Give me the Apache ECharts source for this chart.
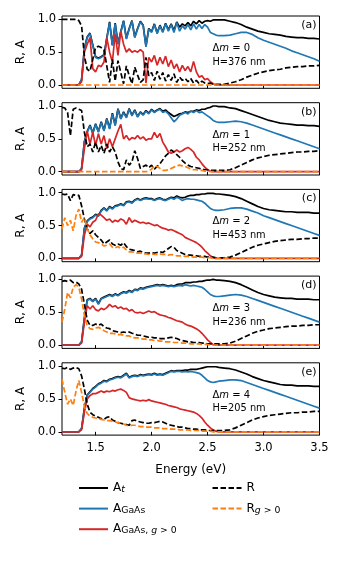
<!DOCTYPE html>
<html>
<head>
<meta charset="utf-8">
<script src="https://cdn.jsdelivr.net/npm/echarts@6/dist/echarts.min.js"></script>
<style>
  html, body { margin: 0; padding: 0; background: #fff; }
  #chart { width: 345px; height: 570px; }
</style>
</head>
<body>
<div id="chart"></div>
<script>
// photon energy grid (eV): 1.2 .. 2.6 every 0.025, then 2.65 .. 3.5 every 0.05
var energy = [
  1.200, 1.225, 1.250, 1.275, 1.300, 1.325, 1.350,
  1.375, 1.400, 1.425, 1.450, 1.475, 1.500, 1.525, 1.550, 1.575, 1.600,
  1.625, 1.650, 1.675, 1.700, 1.725, 1.750, 1.775, 1.800, 1.825, 1.850,
  1.875, 1.900, 1.925, 1.950, 1.975, 2.000, 2.025, 2.050, 2.075, 2.100,
  2.125, 2.150, 2.175, 2.200, 2.225, 2.250, 2.275, 2.300, 2.325, 2.350,
  2.375, 2.400, 2.425, 2.450, 2.475, 2.500, 2.525, 2.550, 2.575, 2.600,
  2.65, 2.70, 2.75, 2.80, 2.85, 2.90, 2.95, 3.00, 3.05, 3.10,
  3.15, 3.20, 3.25, 3.30, 3.35, 3.40, 3.45, 3.50
];

// ---- panel (a), dm = 0
var aAt = [
  0, 0, 0, 0, 0, 0, 0,
  0.08, 0.56, 0.73, 0.79, 0.61, 0.43, 0.41, 0.43, 0.46, 0.71,
  0.96, 0.61, 0.94, 0.63, 0.81, 0.98, 0.71, 0.86, 0.98, 0.73,
  0.86, 0.97, 0.91, 0.59, 0.86, 0.81, 0.93, 0.79, 0.91, 0.81,
  0.94, 0.84, 0.93, 0.83, 0.96, 0.88, 0.93, 0.9, 0.95, 0.9,
  0.97, 0.93, 0.98, 0.94, 0.97, 0.98, 0.97, 0.99, 0.99, 0.99,
  0.99, 0.97, 0.95, 0.92, 0.88, 0.85, 0.82, 0.8, 0.78, 0.77,
  0.76, 0.74, 0.73, 0.72, 0.72, 0.71, 0.71, 0.7
];
var aGaAs = [
  0, 0, 0, 0, 0, 0, 0,
  0.08, 0.55, 0.72, 0.78, 0.6, 0.42, 0.4, 0.42, 0.45, 0.7,
  0.95, 0.6, 0.93, 0.62, 0.8, 0.97, 0.7, 0.85, 0.97, 0.72,
  0.85, 0.96, 0.9, 0.58, 0.85, 0.8, 0.92, 0.78, 0.9, 0.8,
  0.93, 0.82, 0.92, 0.8, 0.95, 0.82, 0.9, 0.85, 0.92, 0.84,
  0.93, 0.85, 0.92, 0.86, 0.92, 0.88, 0.8, 0.78, 0.76, 0.75,
  0.75, 0.76, 0.78, 0.8, 0.8, 0.77, 0.72, 0.68, 0.65, 0.62,
  0.59, 0.56, 0.52, 0.49, 0.46, 0.43, 0.4, 0.36
];
var aGaAsG = [
  0, 0, 0, 0, 0, 0, 0,
  0.05, 0.5, 0.62, 0.72, 0.25, 0.2, 0.3, 0.28, 0.35, 0.72,
  0.5, 0.35, 0.78, 0.45, 0.82, 0.62, 0.5, 0.55, 0.5, 0.52,
  0.5, 0.54, 0.5, 0.03, 0.42, 0.35, 0.45, 0.3, 0.42, 0.32,
  0.44, 0.28, 0.38, 0.25, 0.32, 0.2, 0.3, 0.22, 0.28, 0.2,
  0.36, 0.2, 0.12, 0.14, 0.08, 0.1, 0.05, 0.02, 0, 0,
  0, 0, 0, 0, 0, 0, 0, 0, 0, 0,
  0, 0, 0, 0, 0, 0, 0, 0
];
var aR = [
  1, 1, 1, 1, 1, 1, 0.98,
  0.9, 0.44, 0.24, 0.21, 0.39, 0.57, 0.59, 0.57, 0.54, 0.29,
  0.04, 0.39, 0.06, 0.37, 0.19, 0.02, 0.29, 0.14, 0.02, 0.27,
  0.15, 0.04, 0.08, 0.42, 0.14, 0.19, 0.07, 0.21, 0.09, 0.19,
  0.06, 0.16, 0.07, 0.17, 0.04, 0.12, 0.07, 0.1, 0.05, 0.1,
  0.03, 0.07, 0.02, 0.06, 0.03, 0.02, 0.03, 0.01, 0.01, 0.01,
  0.01, 0.03, 0.05, 0.08, 0.12, 0.15, 0.18, 0.2, 0.22, 0.23,
  0.24, 0.26, 0.27, 0.28, 0.28, 0.29, 0.29, 0.3
];
var aRG = [
  0, 0, 0, 0, 0, 0, 0,
  0, 0, 0, 0, 0, 0, 0, 0, 0, 0,
  0, 0, 0, 0, 0, 0, 0, 0, 0, 0,
  0, 0, 0, 0, 0, 0, 0, 0, 0, 0,
  0, 0, 0, 0, 0, 0, 0, 0, 0, 0,
  0, 0, 0, 0, 0, 0, 0, 0, 0, 0,
  0, 0, 0, 0, 0, 0, 0, 0, 0, 0,
  0, 0, 0, 0, 0, 0, 0, 0
];

// ---- panel (b), dm = 1
var bAt = [
  0, 0, 0, 0, 0, 0, 0,
  0.05, 0.46, 0.61, 0.71, 0.59, 0.73, 0.61, 0.76, 0.63, 0.81,
  0.66, 0.89, 0.71, 0.96, 0.81, 0.91, 0.83, 0.96, 0.86, 0.94,
  0.84, 0.91, 0.87, 0.93, 0.89, 0.95, 0.91, 0.94, 0.96, 0.92,
  0.94, 0.9, 0.87, 0.84, 0.86, 0.88, 0.89, 0.91, 0.9, 0.92,
  0.92, 0.94, 0.93, 0.95, 0.95, 0.97, 0.98, 1.0, 1.0, 0.99,
  0.99, 0.97, 0.96, 0.93, 0.9, 0.87, 0.84, 0.81, 0.78, 0.76,
  0.74, 0.73, 0.72, 0.71, 0.71, 0.7, 0.7, 0.69
];
var bGaAs = [
  0, 0, 0, 0, 0, 0, 0,
  0.05, 0.45, 0.6, 0.7, 0.58, 0.72, 0.6, 0.75, 0.62, 0.8,
  0.65, 0.88, 0.7, 0.95, 0.8, 0.9, 0.82, 0.95, 0.85, 0.93,
  0.83, 0.9, 0.86, 0.92, 0.88, 0.94, 0.9, 0.93, 0.95, 0.9,
  0.92, 0.88, 0.82, 0.76, 0.8, 0.86, 0.88, 0.9, 0.88, 0.92,
  0.9, 0.93, 0.9, 0.91, 0.88, 0.85, 0.82, 0.78, 0.76, 0.75,
  0.75, 0.76, 0.77, 0.76, 0.74, 0.71, 0.68, 0.65, 0.62, 0.59,
  0.56, 0.53, 0.5, 0.47, 0.44, 0.41, 0.38, 0.35
];
var bGaAsG = [
  0, 0, 0, 0, 0, 0, 0,
  0.03, 0.35, 0.62, 0.42, 0.6, 0.4, 0.58, 0.42, 0.55, 0.35,
  0.5, 0.38, 0.5, 0.62, 0.72, 0.5, 0.55, 0.48, 0.52, 0.5,
  0.55, 0.5, 0.53, 0.48, 0.5, 0.5, 0.6, 0.52, 0.58, 0.45,
  0.38, 0.3, 0.28, 0.3, 0.33, 0.3, 0.32, 0.35, 0.37, 0.34,
  0.3, 0.22, 0.18, 0.12, 0.07, 0.03, 0.01, 0, 0, 0,
  0, 0, 0, 0, 0, 0, 0, 0, 0, 0,
  0, 0, 0, 0, 0, 0, 0, 0
];
var bR = [
  0.98, 0.97, 0.9, 0.55, 0.95, 0.97, 0.95,
  0.93, 0.6, 0.38, 0.42, 0.3, 0.45, 0.3, 0.4, 0.28, 0.42,
  0.3, 0.38, 0.3, 0.15, 0.05, 0.03, 0.18, 0.1, 0.15, 0.32,
  0.2, 0.05, 0.08, 0.1, 0.06, 0.1, 0.04, 0.08, 0.12, 0.18,
  0.24, 0.28, 0.33, 0.3, 0.26, 0.22, 0.17, 0.13, 0.1, 0.08,
  0.07, 0.06, 0.05, 0.04, 0.03, 0.03, 0.02, 0.02, 0.02, 0.02,
  0.02, 0.03, 0.06, 0.1, 0.14, 0.18, 0.21, 0.23, 0.25, 0.26,
  0.27, 0.28, 0.29, 0.3, 0.3, 0.31, 0.31, 0.32
];
var bRG = [
  0, 0, 0, 0, 0, 0, 0,
  0, 0, 0, 0, 0, 0, 0, 0, 0, 0,
  0, 0, 0, 0, 0, 0, 0, 0, 0, 0,
  0, 0, 0, 0, 0.01, 0.04, 0.09, 0.08, 0.05, 0.02,
  0.02, 0.03, 0.05, 0.07, 0.09, 0.1, 0.09, 0.08, 0.06, 0.04,
  0.03, 0.03, 0.02, 0.02, 0.01, 0.01, 0, 0, 0, 0,
  0, 0, 0, 0, 0, 0, 0, 0, 0, 0,
  0, 0, 0, 0, 0, 0, 0, 0
];

// ---- panel (c), dm = 2
var cAt = [
  0, 0, 0, 0, 0, 0, 0,
  0.05, 0.46, 0.57, 0.61, 0.63, 0.67, 0.65, 0.73, 0.77, 0.73,
  0.79, 0.76, 0.8, 0.81, 0.83, 0.81, 0.86, 0.87, 0.85, 0.89,
  0.91, 0.89, 0.91, 0.92, 0.91, 0.91, 0.89, 0.91, 0.92, 0.9,
  0.89, 0.91, 0.93, 0.92, 0.95, 0.93, 0.92, 0.93, 0.95, 0.96,
  0.96, 0.97, 0.97, 0.98, 0.98, 0.99, 0.99, 0.99, 0.98, 0.98,
  0.97, 0.96, 0.94, 0.91, 0.87, 0.83, 0.79, 0.76, 0.74, 0.73,
  0.72, 0.71, 0.71, 0.7, 0.7, 0.7, 0.69, 0.69
];
var cGaAs = [
  0, 0, 0, 0, 0, 0, 0,
  0.05, 0.45, 0.56, 0.6, 0.62, 0.66, 0.64, 0.72, 0.76, 0.72,
  0.78, 0.75, 0.79, 0.8, 0.82, 0.8, 0.85, 0.86, 0.84, 0.88,
  0.9, 0.88, 0.9, 0.91, 0.9, 0.9, 0.88, 0.9, 0.91, 0.89,
  0.88, 0.9, 0.92, 0.9, 0.93, 0.91, 0.88, 0.9, 0.91, 0.9,
  0.9, 0.89, 0.88, 0.87, 0.84, 0.8, 0.76, 0.74, 0.73, 0.73,
  0.74, 0.76, 0.77, 0.77, 0.75, 0.72, 0.69, 0.65, 0.62, 0.59,
  0.56, 0.53, 0.5, 0.47, 0.44, 0.41, 0.38, 0.35
];
var cGaAsG = [
  0, 0, 0, 0, 0, 0, 0,
  0.03, 0.35, 0.52, 0.48, 0.55, 0.58, 0.68, 0.66, 0.62, 0.58,
  0.6, 0.55, 0.58, 0.56, 0.6, 0.58, 0.52, 0.62, 0.55, 0.58,
  0.56, 0.54, 0.55, 0.53, 0.54, 0.52, 0.5, 0.51, 0.48, 0.46,
  0.45, 0.43, 0.44, 0.42, 0.4, 0.38, 0.36, 0.32, 0.3, 0.28,
  0.26, 0.24, 0.21, 0.17, 0.12, 0.08, 0.04, 0.01, 0, 0,
  0, 0, 0, 0, 0, 0, 0, 0, 0, 0,
  0, 0, 0, 0, 0, 0, 0, 0
];
var cR = [
  0.98, 0.97, 0.98, 0.88, 0.97, 0.96, 0.96,
  0.8, 0.6, 0.45, 0.38, 0.42, 0.36, 0.32, 0.28, 0.22, 0.25,
  0.28, 0.22, 0.2, 0.22, 0.2, 0.24, 0.18, 0.14, 0.13, 0.12,
  0.1, 0.11, 0.09, 0.08, 0.08, 0.09, 0.08, 0.09, 0.1, 0.09,
  0.12, 0.15, 0.18, 0.17, 0.12, 0.1, 0.08, 0.06, 0.05, 0.05,
  0.04, 0.04, 0.03, 0.03, 0.03, 0.02, 0.02, 0.02, 0.01, 0.01,
  0.01, 0.02, 0.05, 0.09, 0.13, 0.17, 0.2, 0.22, 0.24, 0.26,
  0.27, 0.28, 0.29, 0.29, 0.3, 0.3, 0.31, 0.31
];
var cRG = [
  0.45, 0.62, 0.5, 0.58, 0.42, 0.65, 0.75,
  0.55, 0.62, 0.45, 0.36, 0.3, 0.25, 0.24, 0.22, 0.19, 0.2,
  0.22, 0.17, 0.16, 0.18, 0.15, 0.17, 0.13, 0.1, 0.1, 0.09,
  0.08, 0.08, 0.07, 0.07, 0.06, 0.07, 0.06, 0.06, 0.07, 0.06,
  0.06, 0.05, 0.06, 0.05, 0.04, 0.04, 0.04, 0.03, 0.03, 0.03,
  0.02, 0.02, 0.02, 0.02, 0.01, 0.01, 0.01, 0, 0, 0,
  0, 0, 0, 0, 0, 0, 0, 0, 0, 0,
  0, 0, 0, 0, 0, 0, 0, 0
];

// ---- panel (d), dm = 3
var dAt = [
  0, 0, 0, 0, 0, 0, 0,
  0.05, 0.41, 0.69, 0.71, 0.67, 0.71, 0.63, 0.71, 0.73, 0.75,
  0.77, 0.75, 0.78, 0.76, 0.79, 0.81, 0.8, 0.83, 0.81, 0.85,
  0.84, 0.87, 0.86, 0.88, 0.89, 0.9, 0.91, 0.92, 0.91, 0.92,
  0.91, 0.9, 0.91, 0.9, 0.92, 0.93, 0.93, 0.95, 0.95, 0.95,
  0.96, 0.96, 0.97, 0.97, 0.98, 0.99, 0.99, 1.0, 0.99, 0.99,
  0.98, 0.97, 0.95, 0.92, 0.88, 0.84, 0.8, 0.77, 0.75, 0.73,
  0.72, 0.71, 0.71, 0.7, 0.7, 0.7, 0.69, 0.69
];
var dGaAs = [
  0, 0, 0, 0, 0, 0, 0,
  0.05, 0.4, 0.68, 0.7, 0.66, 0.7, 0.62, 0.7, 0.72, 0.74,
  0.76, 0.74, 0.77, 0.75, 0.78, 0.8, 0.79, 0.82, 0.8, 0.84,
  0.83, 0.86, 0.85, 0.87, 0.88, 0.89, 0.9, 0.91, 0.9, 0.91,
  0.9, 0.89, 0.9, 0.89, 0.9, 0.91, 0.9, 0.92, 0.91, 0.9,
  0.91, 0.9, 0.89, 0.88, 0.85, 0.81, 0.77, 0.75, 0.74, 0.74,
  0.75, 0.76, 0.77, 0.76, 0.74, 0.71, 0.68, 0.65, 0.62, 0.59,
  0.56, 0.53, 0.5, 0.47, 0.44, 0.41, 0.38, 0.35
];
var dGaAsG = [
  0, 0, 0, 0, 0, 0, 0,
  0.03, 0.35, 0.6, 0.55, 0.6, 0.54, 0.52, 0.56, 0.54, 0.57,
  0.62, 0.58, 0.6, 0.56, 0.58, 0.55, 0.56, 0.52, 0.54, 0.5,
  0.49, 0.5, 0.48, 0.5, 0.52, 0.5, 0.51, 0.48, 0.46, 0.45,
  0.44, 0.42, 0.41, 0.39, 0.37, 0.36, 0.35, 0.32, 0.3, 0.29,
  0.27, 0.25, 0.22, 0.18, 0.13, 0.08, 0.04, 0.01, 0, 0,
  0, 0, 0, 0, 0, 0, 0, 0, 0, 0,
  0, 0, 0, 0, 0, 0, 0, 0
];
var dR = [
  0.97, 0.98, 0.97, 0.99, 0.95, 0.96, 0.93,
  0.85, 0.62, 0.38, 0.3, 0.3, 0.32, 0.3, 0.32, 0.28, 0.26,
  0.25, 0.22, 0.21, 0.2, 0.19, 0.2, 0.19, 0.2, 0.18, 0.17,
  0.15, 0.15, 0.14, 0.13, 0.12, 0.12, 0.11, 0.11, 0.1, 0.1,
  0.1, 0.11, 0.12, 0.11, 0.1, 0.08, 0.07, 0.06, 0.05, 0.05,
  0.04, 0.04, 0.04, 0.03, 0.03, 0.02, 0.02, 0.02, 0.02, 0.02,
  0.02, 0.03, 0.06, 0.1, 0.14, 0.18, 0.21, 0.23, 0.25, 0.26,
  0.27, 0.28, 0.29, 0.29, 0.3, 0.3, 0.31, 0.31
];
var dRG = [
  0.35, 0.55, 0.8, 0.72, 0.88, 0.92, 0.88,
  0.7, 0.45, 0.3, 0.25, 0.24, 0.26, 0.27, 0.25, 0.22, 0.2,
  0.18, 0.18, 0.17, 0.16, 0.16, 0.15, 0.14, 0.14, 0.12, 0.11,
  0.11, 0.1, 0.09, 0.09, 0.08, 0.08, 0.07, 0.07, 0.06, 0.06,
  0.05, 0.05, 0.05, 0.04, 0.04, 0.04, 0.03, 0.03, 0.03, 0.02,
  0.02, 0.02, 0.02, 0.01, 0.01, 0.01, 0, 0, 0, 0,
  0, 0, 0, 0, 0, 0, 0, 0, 0, 0,
  0, 0, 0, 0, 0, 0, 0, 0
];

// ---- panel (e), dm = 4
var eAt = [
  0, 0, 0, 0, 0, 0, 0,
  0.05, 0.36, 0.56, 0.61, 0.66, 0.69, 0.73, 0.75, 0.78, 0.77,
  0.8, 0.81, 0.83, 0.84, 0.83, 0.86, 0.89, 0.83, 0.85, 0.86,
  0.85, 0.87, 0.86, 0.87, 0.88, 0.87, 0.89, 0.87, 0.88, 0.87,
  0.89, 0.91, 0.93, 0.92, 0.93, 0.93, 0.93, 0.94, 0.94, 0.95,
  0.95, 0.95, 0.96, 0.97, 0.98, 0.99, 0.99, 0.99, 0.99, 0.98,
  0.97, 0.96, 0.94, 0.91, 0.88, 0.84, 0.81, 0.78, 0.76, 0.74,
  0.72, 0.71, 0.71, 0.7, 0.7, 0.7, 0.69, 0.69
];
var eGaAs = [
  0, 0, 0, 0, 0, 0, 0,
  0.05, 0.35, 0.55, 0.6, 0.65, 0.68, 0.72, 0.74, 0.77, 0.76,
  0.79, 0.8, 0.82, 0.83, 0.82, 0.85, 0.88, 0.82, 0.84, 0.85,
  0.84, 0.86, 0.85, 0.86, 0.87, 0.86, 0.88, 0.86, 0.87, 0.86,
  0.88, 0.9, 0.92, 0.91, 0.92, 0.92, 0.91, 0.92, 0.91, 0.92,
  0.91, 0.9, 0.89, 0.86, 0.82, 0.78, 0.76, 0.75, 0.76, 0.77,
  0.78, 0.79, 0.79, 0.78, 0.75, 0.72, 0.69, 0.66, 0.63, 0.6,
  0.57, 0.54, 0.51, 0.48, 0.45, 0.42, 0.39, 0.36
];
var eGaAsG = [
  0, 0, 0, 0, 0, 0, 0,
  0.03, 0.3, 0.5, 0.55, 0.58, 0.58, 0.6, 0.62, 0.6, 0.62,
  0.61, 0.63, 0.62, 0.64, 0.65, 0.63, 0.6, 0.52, 0.5, 0.49,
  0.48, 0.47, 0.48, 0.47, 0.49, 0.47, 0.46, 0.45, 0.44, 0.43,
  0.42, 0.4, 0.39, 0.38, 0.37, 0.35, 0.34, 0.33, 0.32, 0.31,
  0.3, 0.28, 0.25, 0.21, 0.15, 0.1, 0.06, 0.03, 0.01, 0,
  0, 0, 0, 0, 0, 0, 0, 0, 0, 0,
  0, 0, 0, 0, 0, 0, 0, 0
];
var eR = [
  0.97, 0.96, 0.98, 0.95, 0.97, 0.98, 0.96,
  0.85, 0.65, 0.42, 0.3, 0.26, 0.24, 0.22, 0.2, 0.19, 0.22,
  0.23, 0.18, 0.16, 0.14, 0.13, 0.12, 0.11, 0.1, 0.17, 0.18,
  0.16, 0.15, 0.14, 0.13, 0.13, 0.14, 0.14, 0.15, 0.16, 0.15,
  0.13, 0.11, 0.1, 0.09, 0.08, 0.07, 0.07, 0.06, 0.05, 0.05,
  0.04, 0.04, 0.03, 0.03, 0.03, 0.02, 0.02, 0.02, 0.02, 0.02,
  0.02, 0.03, 0.06, 0.1, 0.14, 0.18, 0.21, 0.23, 0.25, 0.26,
  0.27, 0.28, 0.29, 0.29, 0.3, 0.3, 0.31, 0.31
];
var eRG = [
  0.8, 0.6, 0.42, 0.5, 0.4, 0.62, 0.78,
  0.6, 0.38, 0.28, 0.24, 0.22, 0.21, 0.2, 0.19, 0.18, 0.17,
  0.17, 0.16, 0.15, 0.14, 0.13, 0.12, 0.1, 0.09, 0.1, 0.1,
  0.09, 0.08, 0.08, 0.07, 0.07, 0.07, 0.06, 0.06, 0.06, 0.05,
  0.05, 0.05, 0.04, 0.04, 0.04, 0.03, 0.03, 0.03, 0.03, 0.02,
  0.02, 0.02, 0.02, 0.01, 0.01, 0.01, 0.01, 0, 0, 0,
  0, 0, 0, 0, 0, 0, 0, 0, 0, 0,
  0, 0, 0, 0, 0, 0, 0, 0
];

var panelTags = ['(a)', '(b)', '(c)', '(d)', '(e)'];
var deltaM = ['0', '1', '2', '3', '4'];
var thickness = ['376', '252', '453', '236', '205'];
var xTicks = [1.5, 2.0, 2.5, 3.0, 3.5];
var yTicks = [0, 0.5, 1.0];

var panels = [
    [aAt, aGaAs, aGaAsG, aR, aRG],
    [bAt, bGaAs, bGaAsG, bR, bRG],
    [cAt, cGaAs, cGaAsG, cR, cRG],
    [dAt, dGaAs, dGaAsG, dR, dRG],
    [eAt, eGaAs, eGaAsG, eR, eRG]
];

// order matches the panels rows above
var seriesNames = ['At', 'AGaAs', 'AGaAsG', 'R', 'RG'];
var seriesColors = ['#000000', '#1f77b4', '#d62728', '#000000', '#ff7f0e'];
var seriesDashed = [false, false, false, true, true];

var FONT = 'DejaVu Sans';
var GRID_LEFT = 62, GRID_WIDTH = 257.5, GRID_TOP = 16, GRID_STEP = 86.7, GRID_H = 72.3;

var chart = echarts.init(document.getElementById('chart'), null, { renderer: 'canvas' });

function pairs(values) {
    let arr = [];
    for (let i = 0; i < energy.length; i++) {
        arr.push([energy[i], values[i]]);
    }
    return arr;
}

var grids = [], xAxes = [], yAxes = [], series = [], graphics = [];

for (let p = 0; p < panels.length; p++) {
    let top = GRID_TOP + p * GRID_STEP;
    let last = p == panels.length - 1;
    grids.push({
        left: GRID_LEFT, top: top, width: GRID_WIDTH, height: GRID_H,
        show: true, borderColor: '#000', borderWidth: 1, backgroundColor: 'transparent'
    });
    xAxes.push({
        type: 'value', gridIndex: p, min: 1.2, max: 3.5,
        axisLine: { show: false },
        splitLine: { show: false },
        axisTick: { show: true, inside: false, length: 3.5, customValues: xTicks, lineStyle: { color: '#000', width: 1 } },
        axisLabel: {
            show: last, customValues: xTicks, margin: 7,
            fontFamily: FONT, fontSize: 11.5, color: '#000',
            formatter: function (v) { return v.toFixed(1); }
        },
        name: last ? 'Energy (eV)' : '',
        nameLocation: 'middle', nameGap: 29,
        nameTextStyle: { fontFamily: FONT, fontSize: 12, color: '#000' }
    });
    yAxes.push({
        type: 'value', gridIndex: p, min: -0.05, max: 1.05,
        axisLine: { show: false },
        splitLine: { show: false },
        axisTick: { show: true, inside: false, length: 3.5, customValues: yTicks, lineStyle: { color: '#000', width: 1 } },
        axisLabel: {
            customValues: yTicks, margin: 6,
            fontFamily: FONT, fontSize: 11.5, color: '#000',
            formatter: function (v) { return v.toFixed(1); }
        },
        name: 'R, A', nameLocation: 'middle', nameGap: 30,
        nameTextStyle: { fontFamily: FONT, fontSize: 12, color: '#000' }
    });

    for (let s = 0; s < seriesNames.length; s++) {
        series.push({
            type: 'line',
            name: seriesNames[s],
            xAxisIndex: p, yAxisIndex: p,
            data: pairs(panels[p][s]),
            symbol: 'none',
            silent: true,
            z: 2 + s,
            lineStyle: {
                color: seriesColors[s], width: 1.7,
                type: seriesDashed[s] ? [5.5, 2.5] : 'solid'
            },
            itemStyle: { color: seriesColors[s] }
        });
    }

    graphics.push({
        type: 'text', x: 316.5, y: top + 9,
        style: { text: panelTags[p], align: 'right', verticalAlign: 'middle', font: '11px "' + FONT + '"', fill: '#000' }
    });
    graphics.push({
        type: 'text', x: 212.5, y: top + 32.5,
        style: {
            text: '{n|Δ}{i|m}{n| = ' + deltaM[p] + '}', align: 'left', verticalAlign: 'middle',
            rich: {
                n: { fontFamily: FONT, fontSize: 10, fill: '#000' },
                i: { fontFamily: FONT, fontSize: 10, fontStyle: 'italic', fill: '#000' }
            }
        }
    });
    graphics.push({
        type: 'text', x: 212.5, y: top + 46,
        style: { text: 'H=' + thickness[p] + ' nm', align: 'left', verticalAlign: 'middle', font: '9.8px "' + FONT + '"', fill: '#000' }
    });
}

// legend labels with sub-scripts
var legendText = {
    At: '{m|A}{si|t}',
    AGaAs: '{m|A}{s|GaAs}',
    AGaAsG: '{m|A}{s|GaAs, }{si|g}{s| > 0}',
    R: '{m|R}',
    RG: '{m|R}{si|g}{s| > 0}'
};
var legendRich = {
    m: { fontFamily: FONT, fontSize: 12, lineHeight: 12, verticalAlign: 'top', color: '#000' },
    s: { fontFamily: FONT, fontSize: 9.3, lineHeight: 5, verticalAlign: 'bottom', color: '#000' },
    si: { fontFamily: FONT, fontSize: 9.3, lineHeight: 5, verticalAlign: 'bottom', fontStyle: 'italic', color: '#000' }
};

function makeLegend(left, names) {
    return {
        left: left, top: 477, orient: 'vertical',
        itemWidth: 29, itemHeight: 12, itemGap: 8.6,
        selectedMode: false,
        data: names,
        // hide the marker dot, keep only the line
        itemStyle: { color: 'rgba(0,0,0,0)', borderColor: 'rgba(0,0,0,0)', borderWidth: 0 },
        formatter: function (name) { return legendText[name]; },
        textStyle: { rich: legendRich }
    };
}

var option = {
    animation: false,
    backgroundColor: '#fff',
    grid: grids,
    xAxis: xAxes,
    yAxis: yAxes,
    series: series,
    legend: [
        makeLegend(73, ['At', 'AGaAs', 'AGaAsG']),
        makeLegend(206.5, ['R', 'RG'])
    ],
    graphic: graphics
};

chart.setOption(option);
</script>
</body>
</html>
